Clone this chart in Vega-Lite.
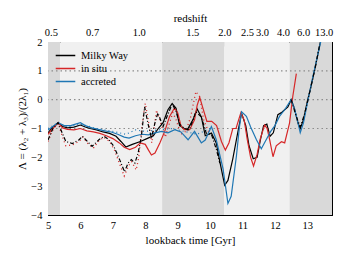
{
  "$schema": "https://vega.github.io/schema/vega-lite/v6.json",
  "width": 284,
  "height": 173,
  "autosize": {"type": "none"},
  "padding": {"left": 48, "top": 42, "right": 14, "bottom": 45},
  "config": {
    "font": "Liberation Serif, Times New Roman, serif",
    "view": {"stroke": "black", "strokeWidth": 1},
    "axis": {
      "labelFont": "Liberation Serif, Times New Roman, serif", "titleFont": "Liberation Serif, Times New Roman, serif",
      "labelFontSize": 10.5, "titleFontSize": 11, "titleFontWeight": "normal",
      "labelColor": "black", "titleColor": "black", "domainColor": "black", "tickColor": "black",
      "grid": false, "tickSize": -4, "labelFlush": false, "labelOverlap": false
    },
    "legend": {"labelFont": "Liberation Serif, Times New Roman, serif", "labelFontSize": 10.5, "labelColor": "black"}
  },
  "datasets": {
    "bands": [
      {"start": 5.0, "end": 5.38, "shade": "dark"},
      {"start": 5.38, "end": 8.52, "shade": "light"},
      {"start": 8.52, "end": 10.43, "shade": "dark"},
      {"start": 10.43, "end": 12.45, "shade": "light"},
      {"start": 12.45, "end": 13.76, "shade": "dark"}
    ],
    "grid": [{"v": -1}, {"v": 0}, {"v": 1}],
    "solid": [
      {"comp":"Milky Way","t":5.0,"v":-1.15},{"comp":"Milky Way","t":5.15,"v":-0.95},{"comp":"Milky Way","t":5.31,"v":-0.81},{"comp":"Milky Way","t":5.45,"v":-0.93},{"comp":"Milky Way","t":5.6,"v":-0.98},{"comp":"Milky Way","t":5.8,"v":-0.95},{"comp":"Milky Way","t":6.0,"v":-0.88},{"comp":"Milky Way","t":6.15,"v":-0.95},{"comp":"Milky Way","t":6.3,"v":-1.0},{"comp":"Milky Way","t":6.5,"v":-1.05},{"comp":"Milky Way","t":6.7,"v":-1.12},{"comp":"Milky Way","t":6.9,"v":-1.17},{"comp":"Milky Way","t":7.1,"v":-1.27},{"comp":"Milky Way","t":7.25,"v":-1.45},{"comp":"Milky Way","t":7.4,"v":-1.64},{"comp":"Milky Way","t":7.6,"v":-1.55},{"comp":"Milky Way","t":7.85,"v":-1.45},{"comp":"Milky Way","t":8.05,"v":-1.35},{"comp":"Milky Way","t":8.25,"v":-1.25},{"comp":"Milky Way","t":8.4,"v":-1.0},{"comp":"Milky Way","t":8.55,"v":-0.8},{"comp":"Milky Way","t":8.7,"v":-0.35},{"comp":"Milky Way","t":8.83,"v":-0.13},{"comp":"Milky Way","t":8.95,"v":-0.3},{"comp":"Milky Way","t":9.06,"v":-0.9},{"comp":"Milky Way","t":9.2,"v":-1.0},{"comp":"Milky Way","t":9.3,"v":-1.04},{"comp":"Milky Way","t":9.47,"v":-0.7},{"comp":"Milky Way","t":9.6,"v":-0.32},{"comp":"Milky Way","t":9.73,"v":-0.6},{"comp":"Milky Way","t":9.85,"v":-1.25},{"comp":"Milky Way","t":10.04,"v":-1.16},{"comp":"Milky Way","t":10.19,"v":-1.5},{"comp":"Milky Way","t":10.3,"v":-2.15},{"comp":"Milky Way","t":10.45,"v":-2.97},{"comp":"Milky Way","t":10.55,"v":-2.8},{"comp":"Milky Way","t":10.7,"v":-2.05},{"comp":"Milky Way","t":10.86,"v":-1.1},{"comp":"Milky Way","t":10.97,"v":-0.47},{"comp":"Milky Way","t":11.1,"v":-0.9},{"comp":"Milky Way","t":11.2,"v":-1.6},{"comp":"Milky Way","t":11.33,"v":-2.05},{"comp":"Milky Way","t":11.45,"v":-2.0},{"comp":"Milky Way","t":11.55,"v":-1.4},{"comp":"Milky Way","t":11.65,"v":-0.9},{"comp":"Milky Way","t":11.75,"v":-0.85},{"comp":"Milky Way","t":11.85,"v":-1.27},{"comp":"Milky Way","t":11.95,"v":-1.15},{"comp":"Milky Way","t":12.09,"v":-0.52},{"comp":"Milky Way","t":12.2,"v":-0.45},{"comp":"Milky Way","t":12.3,"v":-0.35},{"comp":"Milky Way","t":12.4,"v":-0.25},{"comp":"Milky Way","t":12.5,"v":0.0},{"comp":"Milky Way","t":12.6,"v":-0.3},{"comp":"Milky Way","t":12.71,"v":-0.81},{"comp":"Milky Way","t":12.78,"v":-1.0},{"comp":"Milky Way","t":12.88,"v":-0.7},{"comp":"Milky Way","t":13.0,"v":-0.05},{"comp":"Milky Way","t":13.1,"v":0.4},{"comp":"Milky Way","t":13.2,"v":0.9},{"comp":"Milky Way","t":13.3,"v":1.45},{"comp":"Milky Way","t":13.42,"v":2.1},
      {"comp":"in situ","t":5.0,"v":-1.2},{"comp":"in situ","t":5.15,"v":-1.0},{"comp":"in situ","t":5.31,"v":-0.8},{"comp":"in situ","t":5.45,"v":-0.98},{"comp":"in situ","t":5.6,"v":-1.03},{"comp":"in situ","t":5.8,"v":-1.05},{"comp":"in situ","t":6.0,"v":-1.0},{"comp":"in situ","t":6.2,"v":-1.08},{"comp":"in situ","t":6.4,"v":-1.12},{"comp":"in situ","t":6.6,"v":-1.17},{"comp":"in situ","t":6.8,"v":-1.25},{"comp":"in situ","t":7.0,"v":-1.35},{"comp":"in situ","t":7.2,"v":-1.5},{"comp":"in situ","t":7.35,"v":-1.65},{"comp":"in situ","t":7.52,"v":-1.73},{"comp":"in situ","t":7.7,"v":-1.65},{"comp":"in situ","t":7.85,"v":-1.5},{"comp":"in situ","t":8.0,"v":-1.55},{"comp":"in situ","t":8.1,"v":-1.75},{"comp":"in situ","t":8.19,"v":-1.92},{"comp":"in situ","t":8.3,"v":-1.85},{"comp":"in situ","t":8.45,"v":-1.5},{"comp":"in situ","t":8.6,"v":-1.1},{"comp":"in situ","t":8.75,"v":-0.58},{"comp":"in situ","t":8.9,"v":-0.29},{"comp":"in situ","t":9.0,"v":-0.45},{"comp":"in situ","t":9.1,"v":-0.9},{"comp":"in situ","t":9.2,"v":-1.04},{"comp":"in situ","t":9.37,"v":-1.04},{"comp":"in situ","t":9.52,"v":-0.7},{"comp":"in situ","t":9.6,"v":-0.2},{"comp":"in situ","t":9.68,"v":0.08},{"comp":"in situ","t":9.78,"v":-0.3},{"comp":"in situ","t":9.9,"v":-0.75},{"comp":"in situ","t":10.05,"v":-0.75},{"comp":"in situ","t":10.2,"v":-0.9},{"comp":"in situ","t":10.35,"v":-1.45},{"comp":"in situ","t":10.47,"v":-1.75},{"comp":"in situ","t":10.58,"v":-1.5},{"comp":"in situ","t":10.7,"v":-1.0},{"comp":"in situ","t":10.8,"v":-1.0},{"comp":"in situ","t":10.88,"v":-0.7},{"comp":"in situ","t":10.95,"v":-0.45},{"comp":"in situ","t":11.05,"v":-0.7},{"comp":"in situ","t":11.15,"v":-1.4},{"comp":"in situ","t":11.25,"v":-2.0},{"comp":"in situ","t":11.34,"v":-2.3},{"comp":"in situ","t":11.45,"v":-1.9},{"comp":"in situ","t":11.55,"v":-1.35},{"comp":"in situ","t":11.68,"v":-0.88},{"comp":"in situ","t":11.76,"v":-1.0},{"comp":"in situ","t":11.84,"v":-1.4},{"comp":"in situ","t":11.94,"v":-1.98},{"comp":"in situ","t":12.04,"v":-1.6},{"comp":"in situ","t":12.2,"v":-1.46},{"comp":"in situ","t":12.3,"v":-1.5},{"comp":"in situ","t":12.45,"v":-0.81},{"comp":"in situ","t":12.55,"v":0.11},{"comp":"in situ","t":12.66,"v":0.9},
      {"comp":"accreted","t":5.0,"v":-1.05},{"comp":"accreted","t":5.15,"v":-0.93},{"comp":"accreted","t":5.31,"v":-0.8},{"comp":"accreted","t":5.5,"v":-0.9},{"comp":"accreted","t":5.7,"v":-0.9},{"comp":"accreted","t":5.85,"v":-0.85},{"comp":"accreted","t":6.0,"v":-0.8},{"comp":"accreted","t":6.15,"v":-0.9},{"comp":"accreted","t":6.35,"v":-0.98},{"comp":"accreted","t":6.55,"v":-1.03},{"comp":"accreted","t":6.75,"v":-1.08},{"comp":"accreted","t":6.95,"v":-1.12},{"comp":"accreted","t":7.15,"v":-1.2},{"comp":"accreted","t":7.35,"v":-1.3},{"comp":"accreted","t":7.5,"v":-1.33},{"comp":"accreted","t":7.7,"v":-1.25},{"comp":"accreted","t":7.9,"v":-1.2},{"comp":"accreted","t":8.1,"v":-1.22},{"comp":"accreted","t":8.3,"v":-1.15},{"comp":"accreted","t":8.5,"v":-1.1},{"comp":"accreted","t":8.7,"v":-1.15},{"comp":"accreted","t":8.91,"v":-1.04},{"comp":"accreted","t":9.1,"v":-1.12},{"comp":"accreted","t":9.32,"v":-1.39},{"comp":"accreted","t":9.52,"v":-1.1},{"comp":"accreted","t":9.73,"v":-1.5},{"comp":"accreted","t":9.85,"v":-1.4},{"comp":"accreted","t":10.04,"v":-0.93},{"comp":"accreted","t":10.19,"v":-1.39},{"comp":"accreted","t":10.4,"v":-2.4},{"comp":"accreted","t":10.55,"v":-3.6},{"comp":"accreted","t":10.65,"v":-3.35},{"comp":"accreted","t":10.81,"v":-1.97},{"comp":"accreted","t":10.9,"v":-1.0},{"comp":"accreted","t":10.97,"v":-0.42},{"comp":"accreted","t":11.12,"v":-0.58},{"comp":"accreted","t":11.25,"v":-0.95},{"comp":"accreted","t":11.43,"v":-1.39},{"comp":"accreted","t":11.58,"v":-1.7},{"comp":"accreted","t":11.7,"v":-1.45},{"comp":"accreted","t":11.87,"v":-1.1},{"comp":"accreted","t":12.0,"v":-0.9},{"comp":"accreted","t":12.14,"v":-0.58},{"comp":"accreted","t":12.3,"v":-0.35},{"comp":"accreted","t":12.5,"v":0.0},{"comp":"accreted","t":12.6,"v":-0.3},{"comp":"accreted","t":12.7,"v":-0.75},{"comp":"accreted","t":12.78,"v":-1.15},{"comp":"accreted","t":12.88,"v":-0.8},{"comp":"accreted","t":13.02,"v":-0.01},{"comp":"accreted","t":13.17,"v":0.8},{"comp":"accreted","t":13.33,"v":1.6},{"comp":"accreted","t":13.45,"v":2.2}
    ],
    "blackdash": [
      {"seg":"a","t":5.0,"v":-1.4},{"seg":"a","t":5.15,"v":-1.0},{"seg":"a","t":5.31,"v":-0.8},{"seg":"a","t":5.44,"v":-1.16},{"seg":"a","t":5.55,"v":-1.45},{"seg":"a","t":5.75,"v":-1.52},{"seg":"a","t":5.96,"v":-1.39},{"seg":"a","t":6.06,"v":-1.27},{"seg":"a","t":6.26,"v":-1.5},{"seg":"a","t":6.36,"v":-1.62},{"seg":"a","t":6.57,"v":-1.39},{"seg":"a","t":6.73,"v":-1.27},{"seg":"a","t":6.88,"v":-1.39},{"seg":"a","t":7.03,"v":-1.62},{"seg":"a","t":7.21,"v":-2.08},{"seg":"a","t":7.36,"v":-2.5},{"seg":"a","t":7.47,"v":-2.2},{"seg":"a","t":7.57,"v":-2.08},{"seg":"a","t":7.68,"v":-2.2},{"seg":"a","t":7.78,"v":-1.85},{"seg":"a","t":7.88,"v":-1.27},{"seg":"a","t":7.98,"v":-0.25},{"seg":"a","t":8.08,"v":-0.81},{"seg":"a","t":8.19,"v":-1.33},{"seg":"a","t":8.3,"v":-0.8},{"seg":"a","t":8.39,"v":-0.46},{"seg":"a","t":8.55,"v":-0.93},{"seg":"a","t":8.7,"v":-0.5},{"seg":"a","t":8.83,"v":-0.15},{"seg":"a","t":8.95,"v":-0.4},{"seg":"a","t":9.06,"v":-0.85},{"seg":"a","t":9.2,"v":-1.0},{"seg":"a","t":9.35,"v":-1.05},{"seg":"a","t":9.47,"v":-0.72},{"seg":"a","t":9.56,"v":-0.42},{"seg":"a","t":9.73,"v":-0.6},{"seg":"a","t":9.88,"v":-1.16},{"seg":"a","t":10.04,"v":-1.2},{"seg":"a","t":10.2,"v":-1.75},{"seg":"a","t":10.3,"v":-2.2},
      {"seg":"b","t":12.5,"v":0.0},{"seg":"b","t":12.65,"v":-0.55},{"seg":"b","t":12.78,"v":-0.95},{"seg":"b","t":12.9,"v":-0.55},{"seg":"b","t":13.0,"v":-0.1},{"seg":"b","t":13.12,"v":0.5},{"seg":"b","t":13.25,"v":1.15},{"seg":"b","t":13.38,"v":1.9}
    ],
    "reddot": [
      {"t":5.0,"v":-1.45},{"t":5.15,"v":-1.05},{"t":5.31,"v":-0.82},{"t":5.45,"v":-1.3},{"t":5.55,"v":-1.6},{"t":5.75,"v":-1.57},{"t":5.95,"v":-1.45},{"t":6.08,"v":-1.3},{"t":6.25,"v":-1.55},{"t":6.4,"v":-1.68},{"t":6.55,"v":-1.45},{"t":6.72,"v":-1.3},{"t":6.9,"v":-1.45},{"t":7.05,"v":-1.75},{"t":7.2,"v":-2.2},{"t":7.35,"v":-2.65},{"t":7.48,"v":-2.3},{"t":7.58,"v":-2.15},{"t":7.72,"v":-2.44},{"t":7.8,"v":-2.0},{"t":7.9,"v":-0.9},{"t":8.0,"v":-0.13},{"t":8.1,"v":-0.75},{"t":8.2,"v":-1.5},{"t":8.28,"v":-0.9},{"t":8.35,"v":-0.36},{"t":8.5,"v":-0.9},{"t":8.62,"v":-1.3},{"t":8.75,"v":-0.8},{"t":8.85,"v":-0.45},{"t":8.95,"v":-0.7},{"t":9.1,"v":-1.2},{"t":9.25,"v":-1.1},{"t":9.4,"v":-0.6},{"t":9.56,"v":0.28},{"t":9.68,"v":0.1},{"t":9.8,"v":-0.7},{"t":9.95,"v":-1.1},{"t":10.05,"v":-1.1}
    ],
    "bluedot": [
      {"t":5.0,"v":-1.0},{"t":5.31,"v":-0.8},{"t":5.6,"v":-0.95},{"t":6.0,"v":-0.85},{"t":6.5,"v":-1.0},{"t":7.0,"v":-1.1},{"t":7.4,"v":-1.2},{"t":7.7,"v":-1.05},{"t":8.0,"v":-1.1},{"t":8.4,"v":-1.05},{"t":8.8,"v":-1.0},{"t":9.2,"v":-1.1},{"t":9.6,"v":-1.2},{"t":10.0,"v":-1.0}
    ]
  },
  "layer": [
    {
      "data": {"name": "bands"},
      "mark": {"type": "rect"},
      "encoding": {
        "x": {"field": "start", "type": "quantitative", "scale": {"domain": [5, 13.76], "nice": false},
              "axis": {"orient": "bottom", "title": "lookback time [Gyr]", "values": [5,6,7,8,9,10,11,12,13], "format": "d", "labelPadding": 9, "titlePadding": 4}},
        "x2": {"field": "end"},
        "fill": {"field": "shade", "type": "nominal", "scale": {"domain": ["dark", "light"], "range": ["#d9d9d9", "#f0f0f0"]}, "legend": null}
      }
    },
    {
      "data": {"name": "grid"},
      "mark": {"type": "rule", "color": "#8c8c8c", "strokeDash": [1.5, 3], "strokeWidth": 1.2},
      "encoding": {
        "y": {"field": "v", "type": "quantitative", "scale": {"domain": [-4, 2], "nice": false},
              "axis": {"orient": "right", "labels": false, "title": null, "values": [-4,-3,-2,-1,0,1,2]}}
      }
    },
    {
      "data": {"name": "bluedot"},
      "mark": {"type": "line", "color": "#1f77b4", "strokeDash": [1, 3], "strokeWidth": 1.2, "clip": true},
      "encoding": {
        "x": {"field": "t", "type": "quantitative", "axis": null},
        "y": {"field": "v", "type": "quantitative", "axis": null}
      }
    },
    {
      "data": {"name": "reddot"},
      "mark": {"type": "line", "color": "#d62728", "strokeDash": [1, 3], "strokeWidth": 1.3, "clip": true},
      "encoding": {
        "x": {"field": "t", "type": "quantitative", "axis": null},
        "y": {"field": "v", "type": "quantitative", "axis": null}
      }
    },
    {
      "data": {"name": "solid"},
      "mark": {"type": "line", "strokeWidth": 1.2, "clip": true},
      "encoding": {
        "x": {"field": "t", "type": "quantitative",
              "axis": {"orient": "top", "title": "redshift", "titlePadding": 4, "labelPadding": 9,
                       "values": [5.09, 6.36, 7.8, 9.45, 10.44, 11.14, 11.6, 12.25, 12.87, 13.5],
                       "labelExpr": "datum.value < 5.5 ? '0.5' : datum.value < 7 ? '0.7' : datum.value < 8.5 ? '1.0' : datum.value < 10 ? '1.5' : datum.value < 10.8 ? '2.0' : datum.value < 11.3 ? '2.5' : datum.value < 11.9 ? '3.0' : datum.value < 12.6 ? '4.0' : datum.value < 13.2 ? '6.0' : '13.0'"}},
        "y": {"field": "v", "type": "quantitative",
              "axis": {"orient": "left", "title": "Λ = (λ₂ + λ₃)/(2λ₁)", "values": [-4,-3,-2,-1,0,1,2], "labelPadding": 10, "titlePadding": 3}},
        "color": {"field": "comp", "type": "nominal",
                  "scale": {"domain": ["Milky Way", "in situ", "accreted"], "range": ["black", "#d62728", "#1f77b4"]},
                  "legend": {"title": null, "orient": "none", "legendX": 10, "legendY": 6, "symbolType": "M-1.45,0H1.45", "symbolSize": 182, "symbolStrokeWidth": 1.5, "labelOffset": 8, "rowPadding": 0}},
        "order": {"field": "t", "type": "quantitative"}
      }
    },
    {
      "data": {"name": "blackdash"},
      "mark": {"type": "line", "color": "black", "strokeDash": [4, 2, 1, 2], "strokeWidth": 1.2, "clip": true},
      "encoding": {
        "x": {"field": "t", "type": "quantitative", "axis": null},
        "y": {"field": "v", "type": "quantitative", "axis": null},
        "detail": {"field": "seg", "type": "nominal"}
      }
    }
  ],
  "resolve": {"axis": {"x": "independent", "y": "independent"}}
}
